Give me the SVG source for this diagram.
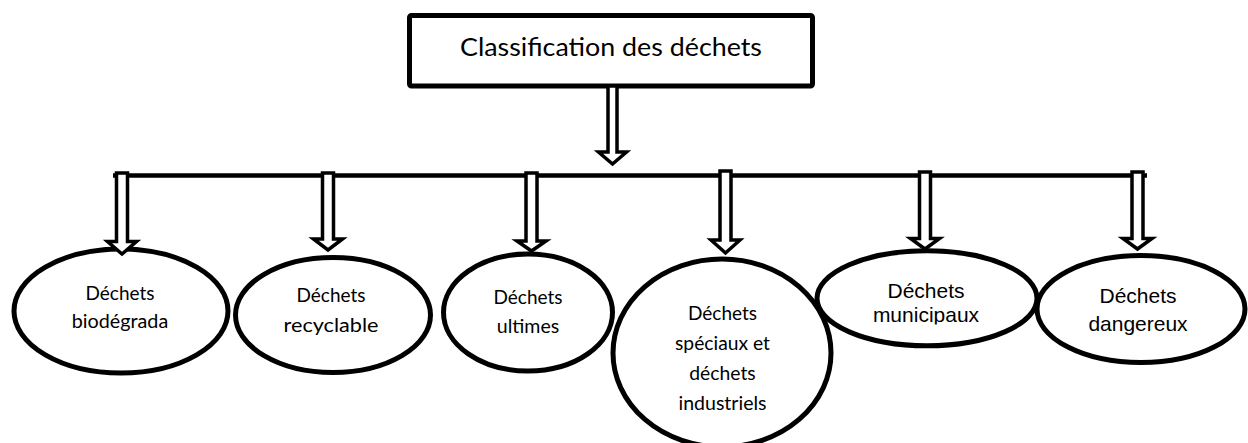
<svg xmlns="http://www.w3.org/2000/svg" width="1248" height="443" viewBox="0 0 1248 443">
<style>
.box{fill:#fff;stroke:#000;stroke-width:5}
.ell{fill:none;stroke:#000;stroke-width:5}
.arr{fill:#fff;stroke:#000;stroke-width:3.5;stroke-linejoin:miter;stroke-miterlimit:10}
.bar{stroke:#000;stroke-width:4.5;fill:none}
.t1{font-family:Lato,"Open Sans",sans-serif;fill:#000;text-anchor:middle}
.t2{font-family:"Liberation Sans",Arial,sans-serif;fill:#000;text-anchor:middle}
</style>
<defs>
<clipPath id="clipMun"><rect x="820" y="270" width="220" height="54.5"/></clipPath>
</defs>
<rect width="1248" height="443" fill="#fff"/>

<g id="root">
<rect class="box" x="409.5" y="15.5" width="403" height="70.5" rx="2"/>
<text class="t1" x="611" y="56" font-size="24.5" textLength="302" lengthAdjust="spacingAndGlyphs">Classification des déchets</text>
</g>

<g id="connectors">
<path class="arr" d="M608,86 L617,86 L617,152 L626.5,152 L612.5,164 L598.5,152 L608,152 Z"/>
<line class="bar" x1="113" y1="175.5" x2="1147" y2="175.5"/>
</g>

<g id="n1">
<ellipse class="ell" cx="121" cy="311" rx="107" ry="62"/>
<text class="t1" x="120" y="300" font-size="18.5" textLength="69" lengthAdjust="spacingAndGlyphs">Déchets</text>
<text class="t1" x="120" y="328" font-size="18.5" textLength="96.5" lengthAdjust="spacingAndGlyphs">biodégrada</text>
</g>
<g id="n2">
<ellipse class="ell" cx="333" cy="315" rx="97.5" ry="57.5"/>
<text class="t1" x="331" y="302" font-size="18.5" textLength="69" lengthAdjust="spacingAndGlyphs">Déchets</text>
<text class="t1" x="331" y="332" font-size="18.5" textLength="95" lengthAdjust="spacingAndGlyphs">recyclable</text>
</g>
<g id="n3">
<ellipse class="ell" cx="528" cy="312.5" rx="84.5" ry="58.5"/>
<text class="t1" x="528" y="304" font-size="18.5" textLength="69" lengthAdjust="spacingAndGlyphs">Déchets</text>
<text class="t1" x="528" y="333" font-size="18.5" textLength="62.5" lengthAdjust="spacingAndGlyphs">ultimes</text>
</g>
<g id="n4">
<ellipse class="ell" cx="722" cy="353" rx="109" ry="94"/>
<text class="t1" x="722.5" y="320" font-size="18.5" textLength="69" lengthAdjust="spacingAndGlyphs">Déchets</text>
<text class="t1" x="722.5" y="350" font-size="18.5" textLength="95" lengthAdjust="spacingAndGlyphs">spéciaux et</text>
<text class="t1" x="722.5" y="380" font-size="18.5" textLength="66.5" lengthAdjust="spacingAndGlyphs">déchets</text>
<text class="t1" x="722.5" y="410" font-size="18.5" textLength="88" lengthAdjust="spacingAndGlyphs">industriels</text>
</g>
<g id="n5">
<ellipse class="ell" cx="927" cy="298.3" rx="110" ry="47.5"/>
<text class="t2" x="926" y="297.5" font-size="21">Déchets</text>
<text class="t2" x="926" y="322" font-size="21" clip-path="url(#clipMun)">municipaux</text>
</g>
<g id="n6">
<ellipse class="ell" cx="1141" cy="309" rx="104" ry="53.5"/>
<text class="t2" x="1138" y="302.5" font-size="21">Déchets</text>
<text class="t2" x="1138" y="331" font-size="21">dangereux</text>
</g>

<g id="branch-arrows">
<path class="arr" d="M116.5,173 L127.5,173 L127.5,241.5 L136.5,241.5 L122,254 L107.5,241.5 L116.5,241.5 Z"/>
<path class="arr" d="M322.5,173 L333.5,173 L333.5,239 L342.5,239 L328,250 L313.5,239 L322.5,239 Z"/>
<path class="arr" d="M526,173 L537,173 L537,241 L546,241 L531.5,251 L517,241 L526,241 Z"/>
<path class="arr" d="M720,171 L731,171 L731,240 L740,240 L725.5,253 L711,240 L720,240 Z"/>
<path class="arr" d="M919.5,172 L930.5,172 L930.5,238.5 L939.5,238.5 L925,249 L910.5,238.5 L919.5,238.5 Z"/>
<path class="arr" d="M1132,172 L1143,172 L1143,238.5 L1152,238.5 L1137.5,249 L1123,238.5 L1132,238.5 Z"/>
</g>
</svg>
